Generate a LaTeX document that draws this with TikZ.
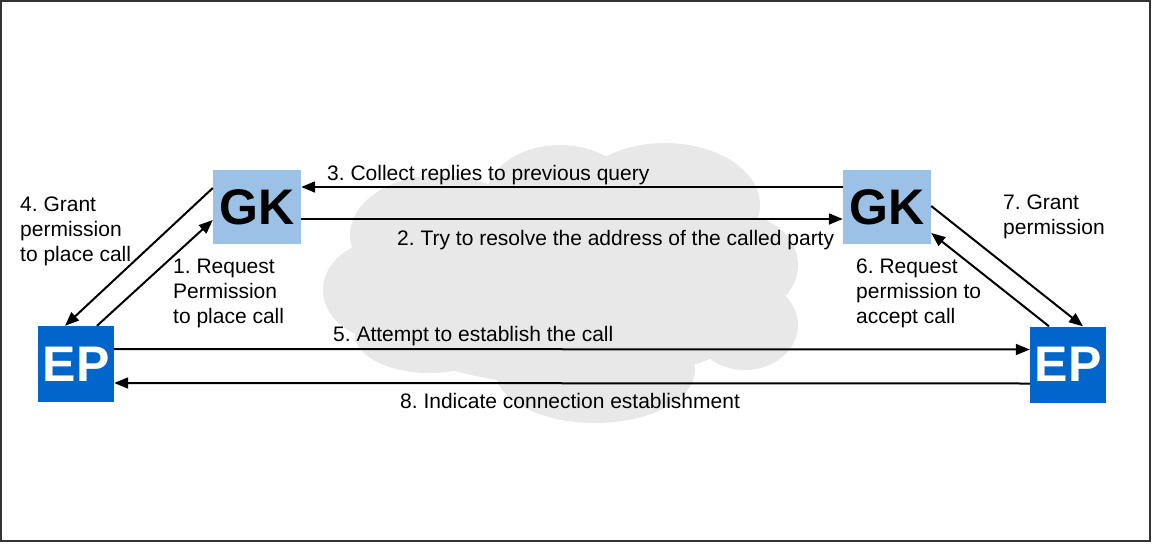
\documentclass[tikz,border=0pt]{standalone}
\usepackage{fontspec}
\setmainfont{Liberation Sans}
\usetikzlibrary{arrows.meta}
\definecolor{gkblue}{RGB}{155,194,230}
\definecolor{epblue}{RGB}{0,102,204}
\definecolor{cloudgray}{RGB}{232,232,232}
\definecolor{framegray}{RGB}{51,51,51}
\begin{document}
\frenchspacing
\begin{tikzpicture}[x=1pt,y=-1pt,
  gkbox/.style={fill=gkblue, minimum width=88pt, minimum height=74pt, inner sep=0pt, font=\fontsize{50}{60}\selectfont\bfseries, text=black},
  epbox/.style={fill=epblue, minimum width=76pt, minimum height=76pt, inner sep=0pt, font=\fontsize{50}{60}\selectfont\bfseries, text=white},
  msg/.style={draw=black, line width=2pt, -{Triangle[length=14pt,width=11pt]}},
  lbl/.style={inner sep=0pt, font=\fontsize{21}{25}\selectfont\frenchspacing, align=left},
]
\useasboundingbox (0,0) rectangle (1152,544);
\draw[framegray, line width=1.5pt] (1,1) rectangle (1150,541);
% cloud
\fill[cloudgray] (565,290) ellipse [x radius=210, y radius=95];
\fill[cloudgray] (385,290) ellipse [x radius=62, y radius=50];
\fill[cloudgray] (440,235) ellipse [x radius=90, y radius=60];
\fill[cloudgray] (560,200) ellipse [x radius=75, y radius=55];
\fill[cloudgray] (665,205) ellipse [x radius=95, y radius=62];
\fill[cloudgray] (740,265) ellipse [x radius=58, y radius=50];
\fill[cloudgray] (745,325) ellipse [x radius=53, y radius=45];
\fill[cloudgray] (595,370) ellipse [x radius=100, y radius=53];
\fill[cloudgray] (430,335) ellipse [x radius=75, y radius=38];
% boxes
\node[gkbox] (gkL) at (257,207) {GK};
\node[gkbox] (gkR) at (887,207) {GK};
\node[epbox] (epL) at (76,364) {EP};
\node[epbox] (epR) at (1068,364.5) {EP};
% messages
\draw[msg] ([yshift=-12pt]gkL.east) -- ([yshift=-12pt]gkR.west);
\draw[msg] ([yshift=20pt]gkR.west) -- ([yshift=20pt]gkL.east);
\draw[msg] ([yshift=15pt]epL.east) -- ([yshift=15pt]epR.west);
\draw[msg] ([yshift=-19pt]epR.west) -- ([yshift=-19pt]epL.east);
\draw[msg] ([yshift=19pt]gkL.west) -- ([xshift=-11pt]epL.north);
\draw[msg] ([xshift=21pt]epL.north) -- ([yshift=-13pt]gkL.west);
\draw[msg] ([yshift=1pt]gkR.east) -- ([xshift=15pt]epR.north);
\draw[msg] ([xshift=-19pt]epR.north) -- ([yshift=-26pt]gkR.east);
% labels
\node[lbl, anchor=base west] (l3) at (327,180) {3. Collect replies to previous query};
\node[lbl, anchor=base west] (l2) at (397,245) {2. Try to resolve the address of the called party};
\node[lbl, anchor=base west] (l5) at (333,341) {5. Attempt to establish the call};
\node[lbl, anchor=base west] (l8) at (400,408) {8. Indicate connection establishment};
\node[lbl, anchor=north west] (l4) at (20,197) {4. Grant\\permission\\to place call};
\node[lbl, anchor=north west] (l1) at (173,259) {1. Request\\Permission\\to place call};
\node[lbl, anchor=north west] (l7) at (1003,195) {7. Grant\\permission};
\node[lbl, anchor=north west] (l6) at (856,259) {6. Request\\permission to\\accept call};
\end{tikzpicture}
\end{document}
